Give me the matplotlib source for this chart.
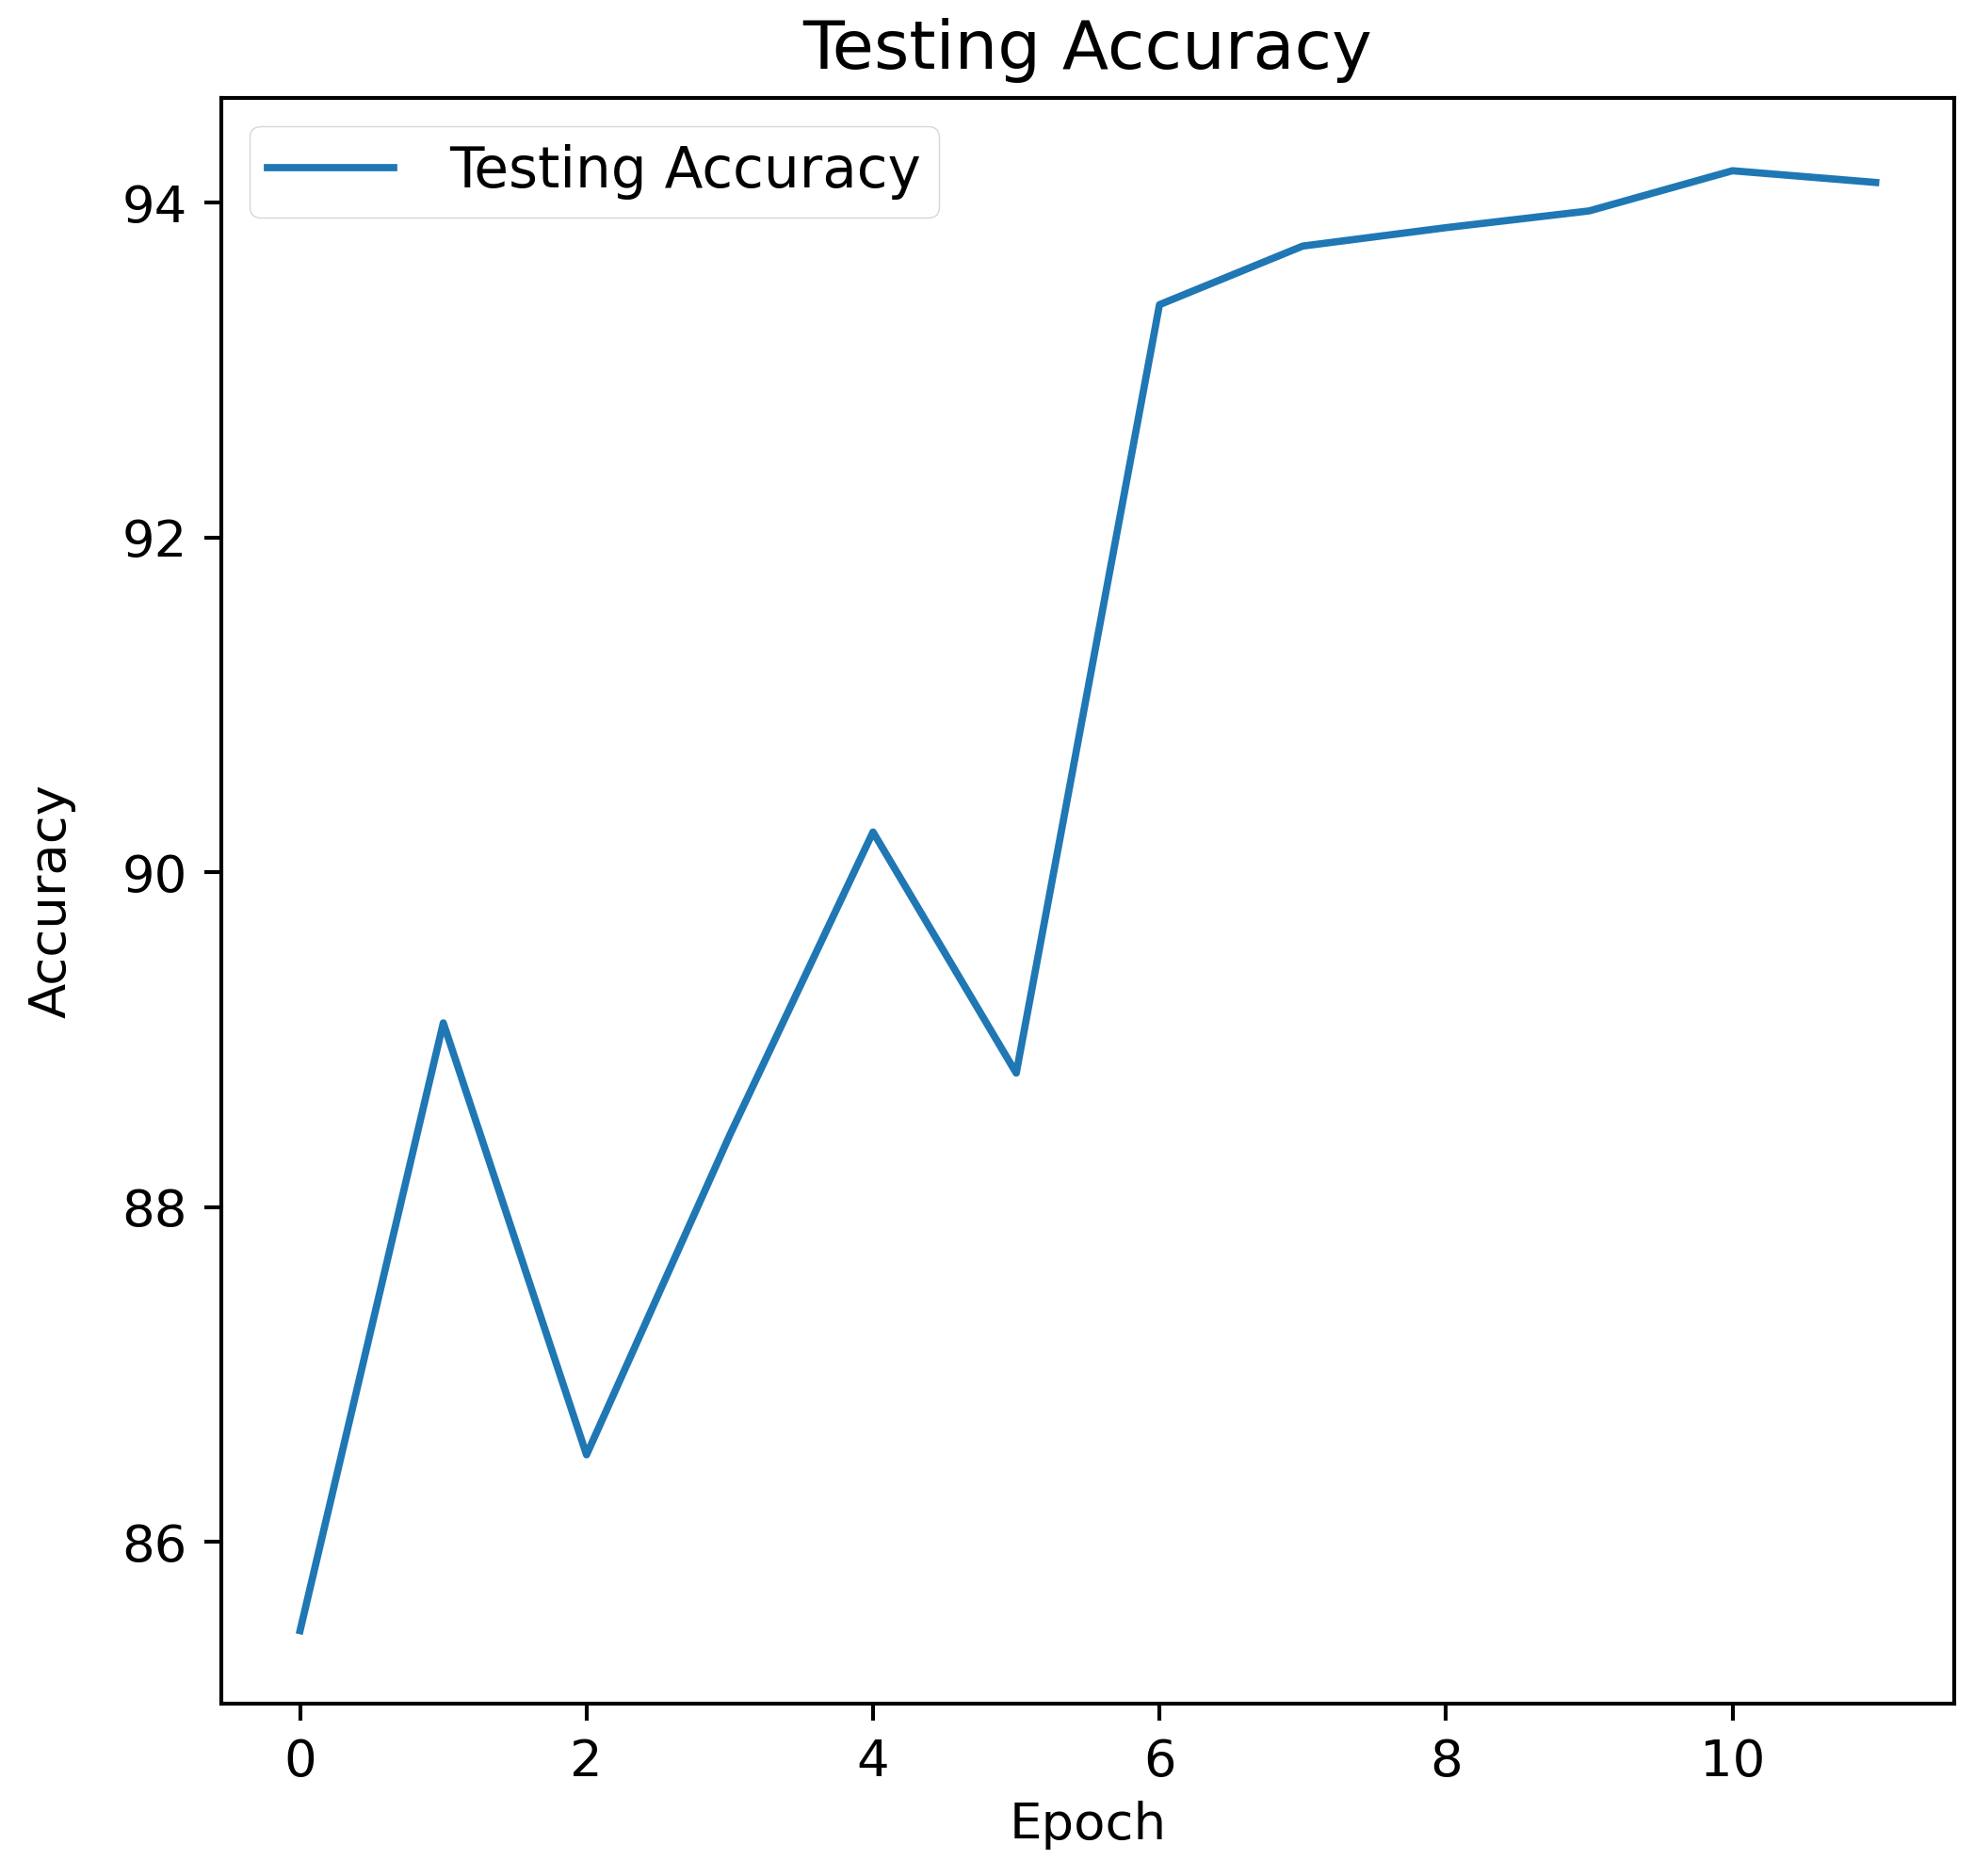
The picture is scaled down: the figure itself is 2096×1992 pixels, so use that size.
import matplotlib
matplotlib.use("Agg")
import matplotlib.pyplot as plt

epochs = list(range(12))
accuracy = [85.47, 89.10, 86.52, 88.43, 90.24, 88.80, 93.39, 93.74, 93.85, 93.95, 94.19, 94.12]

S = 3.7
plt.rcParams.update({
    "font.size": 10.6 * S,
    "axes.linewidth": 0.8 * S,
    "xtick.major.size": 3.5 * S,
    "ytick.major.size": 3.5 * S,
    "xtick.major.width": 0.8 * S,
    "ytick.major.width": 0.8 * S,
    "xtick.major.pad": 3.5 * S,
    "ytick.major.pad": 3.5 * S,
})

fig = plt.figure(figsize=(20.96, 19.92), dpi=100)
ax = fig.add_axes([0.1121, 0.0919, 0.878, 0.856])
ax.plot(epochs, accuracy, color="#1f77b4", linewidth=1.5 * S, label="Testing Accuracy")
ax.set_title("Testing Accuracy", fontsize=14 * S, pad=6 * S)
ax.set_xlabel("Epoch", labelpad=3 * S)
ax.set_ylabel("Accuracy", labelpad=9.5 * S)
ax.set_xticks([0, 2, 4, 6, 8, 10])
ax.set_yticks([86, 88, 90, 92, 94])
ax.legend(loc="upper left", fontsize=11.6 * S, handlelength=2.25, handletextpad=1.0,
          borderpad=0.32)
fig.savefig("out.png", dpi=100)
